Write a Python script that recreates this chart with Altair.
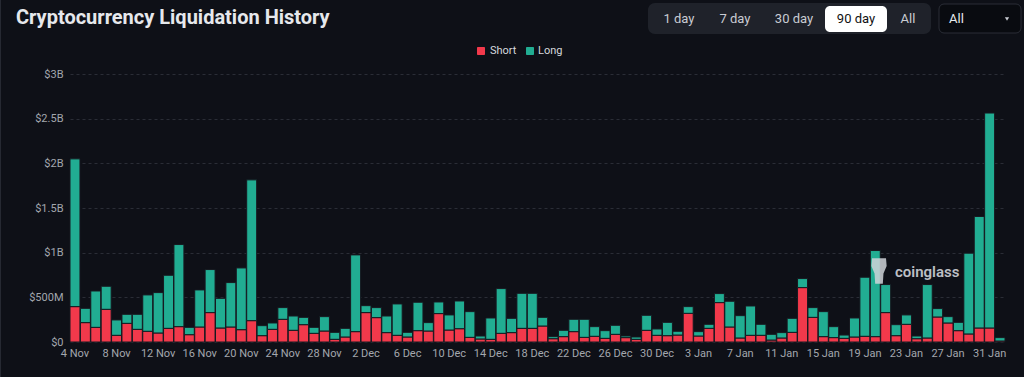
import altair as alt
import pandas as pd

# Day labels 4 Nov .. 1 Feb (90 days)
dates = [d.strftime("%-d %b") for d in pd.date_range("2024-11-04", periods=90, freq="D")]

short_vals = [
    0.396, 0.217, 0.164, 0.366, 0.075, 0.209, 0.142, 0.120, 0.101, 0.153,
    0.172, 0.082, 0.168, 0.329, 0.157, 0.168, 0.138, 0.239, 0.071, 0.142,
    0.254, 0.131, 0.194, 0.097, 0.123, 0.030, 0.056, 0.116, 0.329, 0.273,
    0.105, 0.075, 0.056, 0.127, 0.123, 0.318, 0.134, 0.149, 0.052, 0.034,
    0.030, 0.097, 0.105, 0.153, 0.153, 0.179, 0.037, 0.060, 0.116, 0.052,
    0.064, 0.041, 0.086, 0.049, 0.030, 0.131, 0.075, 0.071, 0.078, 0.321,
    0.067, 0.153, 0.441, 0.168, 0.045, 0.075, 0.075, 0.022, 0.045, 0.108,
    0.609, 0.276, 0.060, 0.049, 0.041, 0.056, 0.064, 0.060, 0.329, 0.071,
    0.198, 0.037, 0.045, 0.280, 0.213, 0.127, 0.090, 0.157, 0.157, 0.011,
]
long_vals = [
    1.654, 0.160, 0.407, 0.258, 0.172, 0.101, 0.168, 0.407, 0.452, 0.594,
    0.919, 0.082, 0.415, 0.482, 0.332, 0.497, 0.691, 1.576, 0.112, 0.071,
    0.131, 0.160, 0.082, 0.067, 0.161, 0.078, 0.097, 0.859, 0.078, 0.112,
    0.186, 0.351, 0.052, 0.318, 0.094, 0.130, 0.169, 0.310, 0.288, 0.033,
    0.239, 0.501, 0.160, 0.392, 0.392, 0.097, 0.023, 0.071, 0.138, 0.202,
    0.108, 0.086, 0.101, 0.018, 0.026, 0.168, 0.071, 0.149, 0.042, 0.075,
    0.049, 0.045, 0.101, 0.288, 0.250, 0.328, 0.123, 0.064, 0.060, 0.157,
    0.101, 0.109, 0.280, 0.123, 0.037, 0.213, 0.661, 0.964, 0.314, 0.123,
    0.105, 0.030, 0.598, 0.094, 0.071, 0.093, 0.904, 1.248, 2.406, 0.038,
]
series_names = ["Short", "Long"]
tick_dates = dates[::4]
y_ticks = [0, 0.5, 1, 1.5, 2, 2.5, 3]

RED = "#f2394b"
GREEN = "#21ad92"
BG = "#0e1017"
FONT = "Roboto"

rows = []
for d, s, l in zip(dates, short_vals, long_vals):
    rows.append({"date": d, "type": "Short", "value": s, "ord": 0})
    rows.append({"date": d, "type": "Long", "value": l, "ord": 1})
df = pd.DataFrame(rows)

one = pd.DataFrame({"a": [0]})

bars = alt.Chart(df).mark_bar(stroke="#171920", strokeWidth=1).encode(
    x=alt.X("date:N", sort=dates, title=None,
            scale=alt.Scale(paddingInner=0.04, paddingOuter=0),
            axis=alt.Axis(values=tick_dates, labelAngle=0, labelColor="#a3a7ae",
                          labelFontSize=11, labelFont=FONT, labelPadding=5,
                          ticks=False, domain=False, grid=False)),
    y=alt.Y("value:Q", stack="zero", title=None,
            scale=alt.Scale(domain=[0, 3], nice=False),
            axis=alt.Axis(values=y_ticks, labelColor="#a3a7ae", labelFontSize=11,
                          labelFont=FONT, labelPadding=7, ticks=False, domain=False,
                          grid=True, gridColor="#2a2d36", gridDash=[3, 3],
                          labelExpr="datum.value == 0 ? '$0' : (datum.value < 1 ? '$' + round(datum.value*1000) + 'M' : '$' + datum.value + 'B')")),
    color=alt.Color("type:N", scale=alt.Scale(domain=series_names, range=[RED, GREEN]), legend=None),
    order=alt.Order("ord:Q"),
)


def rect(x1, x2, y1, y2, fill, radius=0, stroke=None, opacity=1):
    kw = dict(fill=fill, cornerRadius=radius, opacity=opacity)
    if stroke:
        kw["stroke"] = stroke
        kw["strokeWidth"] = 1
    return alt.Chart(one).mark_rect(**kw).encode(
        x=alt.value(x1), x2=alt.value(x2), y=alt.value(y1), y2=alt.value(y2))


def text(t, x, y, size=13, color="#c9ccd3", weight="normal", align="center", opacity=1):
    return alt.Chart(one).mark_text(text=t, fontSize=size, color=color, font=FONT,
                                    fontWeight=weight, align=align, baseline="middle",
                                    opacity=opacity).encode(x=alt.value(x), y=alt.value(y))


layers = [bars]
# Title
layers.append(text("Cryptocurrency Liquidation History", -54, -56, size=20,
                   color="#e6e8ec", weight="bold", align="left"))
# Segmented control
layers.append(rect(578, 861, -71, -40, "#1f222a", radius=7))
layers.append(rect(755, 817, -68, -42, "#ffffff", radius=5))
for t, cx in [("1 day", 609), ("7 day", 665), ("30 day", 724), ("All", 838)]:
    layers.append(text(t, cx, -55, size=13))
layers.append(text("90 day", 786, -55, size=13, color="#111111"))
# Dropdown
layers.append(rect(869, 951, -70, -41, "#090b10", radius=5, stroke="#2a2d36"))
layers.append(text("All", 879, -55, size=13, color="#e6e8ec", align="left"))
layers.append(alt.Chart(one).mark_point(shape="triangle-down", filled=True, size=18,
                                        color="#c9ccd3", opacity=1).encode(
    x=alt.value(937), y=alt.value(-55)))
# Legend
layers.append(rect(407, 415, -27, -19, RED, radius=1))
layers.append(text("Short", 420, -23, size=11, color="#d5d8dd", align="left"))
layers.append(rect(456, 464, -27, -19, GREEN, radius=1))
layers.append(text("Long", 468, -23, size=11, color="#d5d8dd", align="left"))
# Watermark
layers.append(alt.Chart(one).mark_point(
    shape="M-0.55,-1 L0.55,-1 L0.6,-0.4 L0.35,0.2 L0.3,1 L-0.3,1 L-0.35,0.2 L-0.6,-0.4 Z",
    filled=True, size=650, color="#cfd3d8", opacity=0.85).encode(
    x=alt.value(809), y=alt.value(197)))
layers.append(text("coinglass", 825, 198, size=15, color="#cfd3d8",
                   weight=600, align="left", opacity=0.9))
# Left panel border
layers.append(alt.Chart(one).mark_rule(color="#262932", strokeWidth=1).encode(
    x=alt.value(-69.5), y=alt.value(-74), y2=alt.value(303)))

chart = alt.layer(*layers).properties(
    width=935, height=268,
    autosize=alt.AutoSizeParams(type="none"),
    padding={"left": 70, "top": 74, "right": 19, "bottom": 35},
    background=BG,
).configure_view(stroke=None)

chart.save("out.html", embed_options={"renderer": "svg", "actions": False})
